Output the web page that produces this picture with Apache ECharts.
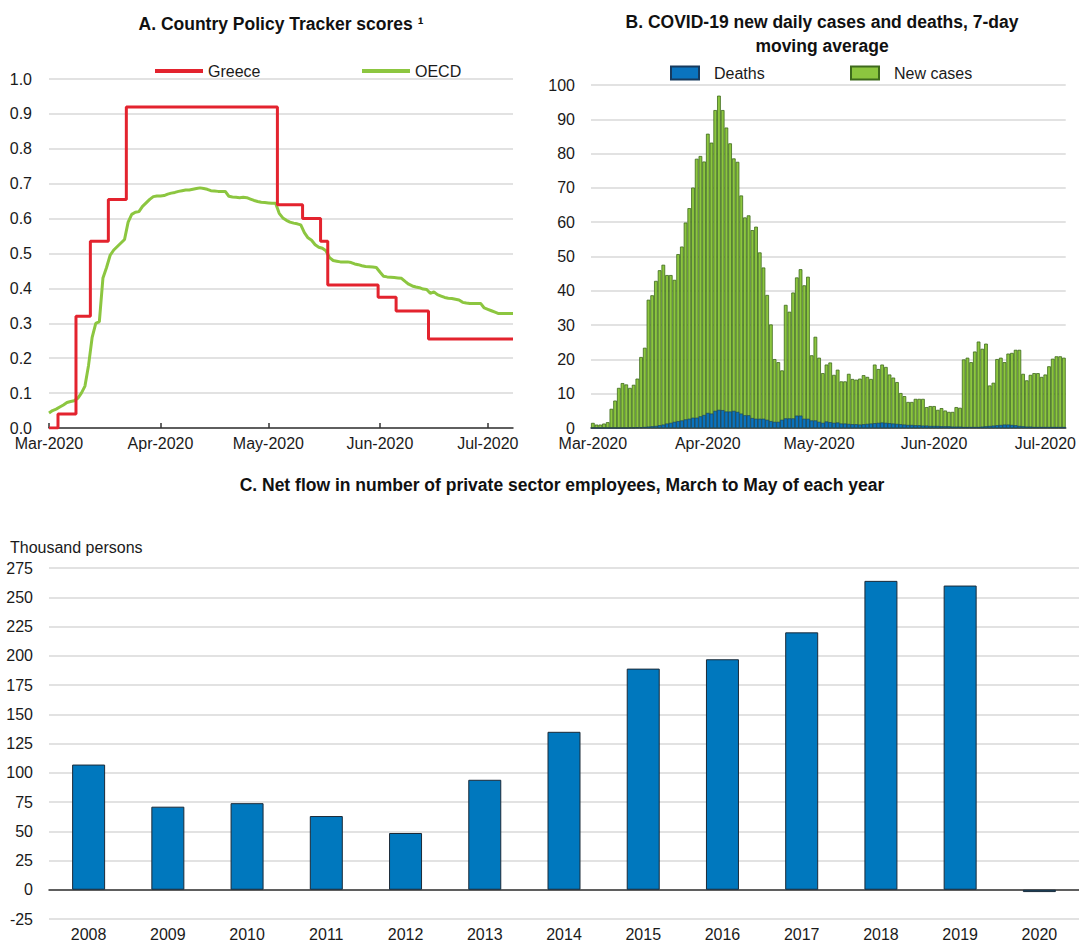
<!DOCTYPE html>
<html><head><meta charset="utf-8">
<script src="https://cdn.jsdelivr.net/npm/echarts@6/dist/echarts.min.js"></script>
<style>html,body{margin:0;padding:0;background:#fff}#c{width:1079px;height:942px}</style>
</head><body><div id="c"></div>
<script>
// ---------- Panel A: Country Policy Tracker scores (daily, from 1 Mar 2020) ----------
const greece = [
0,0,0,0.04,0.04,0.04,0.04,0.04,0.32,0.32,
0.32,0.32,0.535,0.535,0.535,0.535,0.535,0.655,0.655,0.655,
0.655,0.655,0.92,0.92,0.92,0.92,0.92,0.92,0.92,0.92,
0.92,0.92,0.92,0.92,0.92,0.92,0.92,0.92,0.92,0.92,
0.92,0.92,0.92,0.92,0.92,0.92,0.92,0.92,0.92,0.92,
0.92,0.92,0.92,0.92,0.92,0.92,0.92,0.92,0.92,0.92,
0.92,0.92,0.92,0.92,0.64,0.64,0.64,0.64,0.64,0.64,
0.64,0.60,0.60,0.60,0.60,0.60,0.535,0.535,0.41,0.41,
0.41,0.41,0.41,0.41,0.41,0.41,0.41,0.41,0.41,0.41,
0.41,0.41,0.375,0.375,0.375,0.375,0.375,0.335,0.335,0.335,
0.335,0.335,0.335,0.335,0.335,0.335,0.255,0.255,0.255,0.255,
0.255,0.255,0.255,0.255,0.255,0.255,0.255,0.255,0.255,0.255,
0.255,0.255,0.255,0.255,0.255,0.255,0.255,0.255,0.255,0.255
];
const oecd = [
0.043,0.050,0.054,0.060,0.066,0.073,0.076,0.078,0.085,0.100,
0.120,0.180,0.260,0.300,0.305,0.430,0.460,0.495,0.510,0.520,
0.530,0.540,0.590,0.612,0.618,0.620,0.635,0.645,0.655,0.663,
0.665,0.665,0.666,0.670,0.673,0.675,0.678,0.680,0.682,0.682,
0.684,0.686,0.688,0.686,0.684,0.680,0.679,0.678,0.678,0.678,
0.664,0.662,0.661,0.660,0.661,0.660,0.656,0.652,0.649,0.647,
0.646,0.645,0.644,0.644,0.615,0.602,0.595,0.590,0.587,0.585,
0.582,0.560,0.545,0.538,0.525,0.518,0.515,0.508,0.488,0.480,
0.478,0.476,0.476,0.476,0.474,0.470,0.468,0.465,0.463,0.462,
0.461,0.460,0.447,0.435,0.433,0.432,0.431,0.430,0.429,0.420,
0.412,0.407,0.404,0.402,0.398,0.397,0.386,0.390,0.382,0.378,
0.374,0.372,0.371,0.369,0.367,0.360,0.358,0.357,0.357,0.357,
0.357,0.344,0.340,0.336,0.332,0.328,0.328,0.328,0.328,0.328
];

// ---------- Panel B: COVID-19 new daily cases and deaths, 7-day moving average ----------
const newCases = [
// March
1.5,1.0,1.0,1.3,1.7,5.6,8.0,11.7,13.1,12.7,11.7,12.6,14.4,20.7,23.4,37.4,
38.7,42.9,46.0,47.6,44.6,44.6,43.2,50.7,52.9,59.9,64.1,70.1,78.5,79.3,77.7,
// April
85.8,83.2,92.7,96.9,92.7,87.6,83.0,78.6,77.6,67.8,61.4,62.0,57.7,58.7,51.2,
46.8,38.8,30.2,20.1,19.2,16.8,35.9,33.9,39.5,43.9,46.3,41.6,44.1,21.2,26.6,
// May
20.5,16.0,18.5,19.1,15.5,17.0,13.6,13.6,15.8,14.3,14.1,14.4,15.4,14.9,14.3,
18.5,17.2,18.5,17.8,15.6,14.7,13.4,10.2,9.3,7.6,7.6,8.5,8.5,8.5,6.1,6.4,
// June
6.4,5.3,5.8,5.1,4.7,4.7,6.1,5.9,20.0,20.5,19.2,22.3,25.2,23.1,24.6,
12.4,13.2,20.1,20.5,19.2,21.7,21.9,22.8,22.8,15.8,13.9,15.5,16.0,16.0,14.9,
// July
15.6,18.0,20.2,20.9,20.9,20.5
];
const deaths = [
// March
0,0,0,0,0,0,0,0,0,0,0.1,0.1,0.2,0.2,0.3,0.4,
0.5,0.6,0.8,1.0,1.3,1.5,1.8,2.0,2.2,2.5,2.7,3.0,3.0,3.4,3.8,
// April
4.4,4.2,5.0,5.3,5.2,4.8,4.8,5.0,4.7,4.2,3.7,3.7,2.9,2.7,2.7,
2.7,2.4,2.0,1.8,1.8,2.4,2.8,2.8,2.8,3.6,3.6,2.7,2.7,2.2,2.2,
// May
1.8,1.5,1.9,1.7,1.5,1.6,1.3,1.3,1.2,1.1,1.1,1.0,1.1,1.2,1.3,
1.4,1.5,1.6,1.5,1.4,1.3,1.2,1.1,1.0,0.9,0.9,0.8,0.8,0.7,0.7,0.6,
// June
0.6,0.6,0.5,0.5,0.5,0.4,0.4,0.4,0.3,0.3,0.3,0.3,0.3,0.4,0.5,
0.6,0.7,0.8,0.9,1.0,1.0,0.9,0.8,0.6,0.5,0.4,0.4,0.3,0.3,0.3,
// July
0.3,0.3,0.3,0.3,0.3,0.3
];

// ---------- Panel C: Net flow in private sector employees, March-May ----------
const years = ['2008','2009','2010','2011','2012','2013','2014','2015','2016','2017','2018','2019','2020'];
const netFlow = [107, 71, 74, 63, 48.5, 94, 135, 189, 197, 220, 264, 260, -2];

// tick settings
const yTicksA = { min: 0, max: 1, interval: 0.1 };
const yTicksB = { min: 0, max: 100, interval: 10 };
const yTicksC = { min: -25, max: 275, interval: 25 };

// consecutive daily categories from 1 March 2020
function dayLabels(n) {
  const out = []; const d = new Date(Date.UTC(2020, 2, 1));
  for (let i = 0; i < n; i++) { out.push(d.toISOString().slice(0, 10)); d.setUTCDate(d.getUTCDate() + 1); }
  return out;
}
const datesA = dayLabels(greece.length);
const datesB = dayLabels(newCases.length);
const MONTHS = { '03': 'Mar', '04': 'Apr', '05': 'May', '06': 'Jun', '07': 'Jul' };
const isMonthStart = (i, v) => String(v).slice(8) === '01';
const monthFmt = v => MONTHS[v.slice(5, 7)] + '-' + v.slice(0, 4);

const FF = "'Liberation Sans Narrow','Arial Narrow','Liberation Sans',Arial,sans-serif";
const TXT = '#1a1a1a';
const FS = 16;
const GRID_LINE = { lineStyle: { color: '#d9d9d9', width: 1.5 } };
const AXIS_LINE = { lineStyle: { color: '#333', width: 1.5 } };
const lbl = (size) => ({ color: TXT, fontFamily: FF, fontSize: size, lineHeight: 14 });

const chart = echarts.init(document.getElementById('c'), null, { renderer: 'svg' });

const titleFont = { fill: '#111', fontFamily: FF, fontSize: 17.5, fontWeight: 'bold' };
chart.setOption({
  animation: false,
  backgroundColor: '#fff',
  graphic: [
    { type: 'text', x: 281, y: 24, style: Object.assign({ text: 'A. Country Policy Tracker scores \u00B9', align: 'center', verticalAlign: 'middle' }, titleFont) },
    { type: 'text', x: 822, y: 22, style: Object.assign({ text: 'B. COVID-19 new daily cases and deaths, 7-day', align: 'center', verticalAlign: 'middle' }, titleFont) },
    { type: 'text', x: 822, y: 46, style: Object.assign({ text: 'moving average', align: 'center', verticalAlign: 'middle' }, titleFont) },
    { type: 'text', x: 562, y: 485, style: Object.assign({ text: 'C. Net flow in number of private sector employees, March to May of each year', align: 'center', verticalAlign: 'middle' }, titleFont) },
    { type: 'text', x: 10, y: 547, style: { text: 'Thousand persons', align: 'left', verticalAlign: 'middle', fill: TXT, fontFamily: FF, fontSize: FS } }
  ],
  legend: [
    { data: ['Greece'], left: 150, top: 58, icon: 'rect', itemWidth: 48, itemHeight: 4, textStyle: lbl(FS) },
    { data: ['OECD'], left: 357, top: 58, icon: 'rect', itemWidth: 48, itemHeight: 4, textStyle: lbl(FS) },
    { data: ['Deaths'], left: 665, top: 60, icon: 'rect', itemWidth: 28, itemHeight: 13, textStyle: Object.assign(lbl(FS), { padding: [0, 0, 0, 10] }) },
    { data: ['New cases'], left: 845, top: 60, icon: 'rect', itemWidth: 28, itemHeight: 13, textStyle: Object.assign(lbl(FS), { padding: [0, 0, 0, 10] }) }
  ],
  grid: [
    { left: 49, top: 79, width: 464, height: 349 },
    { left: 591, top: 85, width: 478, height: 343 },
    { left: 49, top: 568, width: 1048.5, height: 351 }
  ],
  xAxis: [
    { type: 'category', gridIndex: 0, data: datesA, boundaryGap: false,
      axisLine: AXIS_LINE, axisTick: { inside: true, length: 5, interval: isMonthStart, lineStyle: { color: '#333', width: 1.5 } },
      axisLabel: Object.assign(lbl(FS), { interval: isMonthStart, formatter: monthFmt, margin: 8 }), splitLine: { show: false } },
    { type: 'category', gridIndex: 1, data: datesB, boundaryGap: true,
      axisLine: AXIS_LINE, axisTick: { inside: true, length: 5, interval: isMonthStart, lineStyle: { color: '#111', width: 1.5 } },
      axisLabel: Object.assign(lbl(FS), { interval: isMonthStart, formatter: monthFmt, margin: 8 }), splitLine: { show: false } },
    { type: 'category', gridIndex: 2, data: years, position: 'bottom',
      axisLine: { show: false, onZero: false }, axisTick: { show: false },
      axisLabel: Object.assign(lbl(FS), { margin: 8 }) },
    { type: 'category', gridIndex: 2, data: years, position: 'bottom',
      axisLine: Object.assign({ onZero: true }, AXIS_LINE), axisTick: { inside: true, length: 5, lineStyle: { color: '#333', width: 1.5 } },
      axisLabel: { show: false } }
  ],
  yAxis: [
    { type: 'value', gridIndex: 0, min: yTicksA.min, max: yTicksA.max, interval: yTicksA.interval,
      axisLine: { show: false }, axisTick: { show: false }, splitLine: GRID_LINE,
      axisLabel: Object.assign(lbl(FS), { margin: 17, formatter: v => v.toFixed(1) }) },
    { type: 'value', gridIndex: 1, min: yTicksB.min, max: yTicksB.max, interval: yTicksB.interval,
      axisLine: { show: false }, axisTick: { show: false }, splitLine: GRID_LINE,
      axisLabel: Object.assign(lbl(FS), { margin: 16 }) },
    { type: 'value', gridIndex: 2, min: yTicksC.min, max: yTicksC.max, interval: yTicksC.interval,
      axisLine: { show: false }, axisTick: { show: false }, splitLine: GRID_LINE,
      axisLabel: Object.assign(lbl(FS), { margin: 16 }) }
  ],
  series: [
    { name: 'Greece', type: 'line', xAxisIndex: 0, yAxisIndex: 0, data: greece, step: 'middle',
      symbol: 'none', color: '#e3232e', lineStyle: { color: '#e3232e', width: 3 }, z: 3 },
    { name: 'OECD', type: 'line', xAxisIndex: 0, yAxisIndex: 0, data: oecd,
      symbol: 'none', color: '#8cc640', lineStyle: { color: '#8cc640', width: 3 }, z: 2 },
    { name: 'New cases', type: 'bar', xAxisIndex: 1, yAxisIndex: 1, data: newCases,
      barCategoryGap: '0%', barGap: '-100%',
      itemStyle: { color: '#8cc63f', borderColor: '#3e6a1c', borderWidth: 0.8 } },
    { name: 'Deaths', type: 'bar', xAxisIndex: 1, yAxisIndex: 1, data: deaths,
      barCategoryGap: '0%', barGap: '-100%',
      itemStyle: { color: '#0a74bf', borderColor: '#173a5e', borderWidth: 0.6 } },
    { name: 'Net flow', type: 'bar', xAxisIndex: 2, yAxisIndex: 2, data: netFlow, barWidth: 33,
      itemStyle: { color: '#0078be', borderColor: '#1b2a38', borderWidth: 1 } }
  ]
});
</script></body></html>
